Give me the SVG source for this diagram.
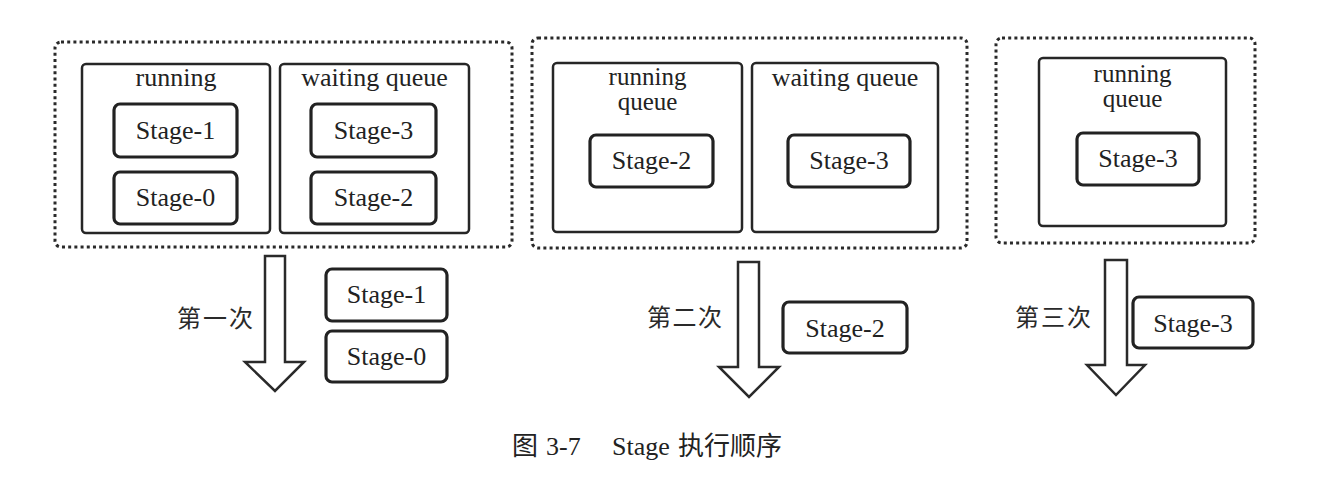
<svg xmlns="http://www.w3.org/2000/svg" width="1328" height="498" viewBox="0 0 1328 498">
<style>
.bg{fill:#ffffff}
.dot{fill:none;stroke:#2a2a2a;stroke-width:3;stroke-dasharray:3 3.2}
.box{fill:none;stroke:#262626;stroke-width:2.5}
.stage{fill:#ffffff;stroke:#222;stroke-width:3.2}
.arrow{fill:#ffffff;stroke:#2a2a2a;stroke-width:2.5;stroke-linejoin:miter}
.t{font-family:"Liberation Serif","Times New Roman",serif;font-size:26px;fill:#222;text-anchor:middle}
.t2{font-family:"Liberation Serif","Times New Roman",serif;font-size:25px;fill:#222;text-anchor:middle}
.cn{font-family:"Liberation Serif","Noto Sans CJK SC",sans-serif;font-size:24px;fill:#2a2a2a}
.cap{font-family:"Liberation Serif","Noto Sans CJK SC",serif;font-size:26px;fill:#222}
</style>
<rect class="bg" x="0" y="0" width="1328" height="498"/>

<g id="group1">
  <rect class="dot" x="55" y="42" width="457" height="205" rx="6"/>
  <g id="g1-running">
    <rect class="box" x="82" y="64" width="188" height="169" rx="4"/>
    <text class="t" x="176" y="86">running</text>
  </g>
  <g id="g1-waiting">
    <rect class="box" x="280" y="64" width="189" height="169" rx="4"/>
    <text class="t" x="374.5" y="86">waiting queue</text>
  </g>
  <g id="g1-stage1"><rect class="stage" x="114" y="104" width="123" height="53" rx="6"/><text class="t" x="175.5" y="139">Stage-1</text></g>
  <g id="g1-stage0"><rect class="stage" x="114" y="172" width="123" height="52" rx="6"/><text class="t" x="175.5" y="206">Stage-0</text></g>
  <g id="g1-stage3"><rect class="stage" x="311" y="104" width="125" height="53" rx="6"/><text class="t" x="373.5" y="139">Stage-3</text></g>
  <g id="g1-stage2"><rect class="stage" x="311" y="172" width="125" height="52" rx="6"/><text class="t" x="373.5" y="206">Stage-2</text></g>
</g>

<g id="group2">
  <rect class="dot" x="532" y="38" width="435" height="210" rx="6"/>
  <g id="g2-running">
    <rect class="box" x="553" y="63" width="189" height="169" rx="4"/>
    <text class="t2" x="647.5" y="85">running</text>
    <text class="t2" x="647.5" y="110">queue</text>
  </g>
  <g id="g2-waiting">
    <rect class="box" x="752" y="63" width="186" height="169" rx="4"/>
    <text class="t" x="845" y="86">waiting queue</text>
  </g>
  <g id="g2-stage2"><rect class="stage" x="590" y="135" width="123" height="52" rx="6"/><text class="t" x="651.5" y="169">Stage-2</text></g>
  <g id="g2-stage3"><rect class="stage" x="788" y="135" width="122" height="52" rx="6"/><text class="t" x="849" y="169">Stage-3</text></g>
</g>

<g id="group3">
  <rect class="dot" x="996" y="38" width="259" height="205" rx="6"/>
  <g id="g3-running">
    <rect class="box" x="1039" y="58" width="187" height="168" rx="4"/>
    <text class="t2" x="1132.5" y="82">running</text>
    <text class="t2" x="1132.5" y="107">queue</text>
  </g>
  <g id="g3-stage3"><rect class="stage" x="1077" y="133" width="122" height="52" rx="6"/><text class="t" x="1138" y="167">Stage-3</text></g>
</g>

<g id="connectors">
  <polygon class="arrow" points="265,256 285,256 285,362 304,362 275,391 245,362 265,362"/>
  <polygon class="arrow" points="738,262 759,262 759,367 779,367 749,397 719,367 738,367"/>
  <polygon class="arrow" points="1105,260 1127,260 1127,365 1145,365 1116,395 1087,365 1105,365"/>
</g>

<g id="step1">
  <text class="cn" x="177" y="327" textLength="76">第一次</text>
  <g id="s1-stage1"><rect class="stage" x="326" y="269" width="121" height="52" rx="6"/><text class="t" x="386.5" y="303">Stage-1</text></g>
  <g id="s1-stage0"><rect class="stage" x="326" y="331" width="121" height="51" rx="6"/><text class="t" x="386.5" y="365">Stage-0</text></g>
</g>

<g id="step2">
  <text class="cn" x="647" y="326" textLength="75">第二次</text>
  <g id="s2-stage2"><rect class="stage" x="783" y="302" width="124" height="51" rx="6"/><text class="t" x="845" y="337">Stage-2</text></g>
</g>

<g id="step3">
  <text class="cn" x="1015" y="326" textLength="76">第三次</text>
  <g id="s3-stage3"><rect class="stage" x="1133" y="297" width="120" height="51" rx="6"/><text class="t" x="1193" y="332">Stage-3</text></g>
</g>

<g id="caption">
  <text class="cap" x="512" y="455">图</text>
  <text class="cap" x="546" y="455">3-7</text>
  <text class="cap" x="612" y="455">Stage</text>
  <text class="cap" x="678" y="455">执行顺序</text>
</g>
</svg>
